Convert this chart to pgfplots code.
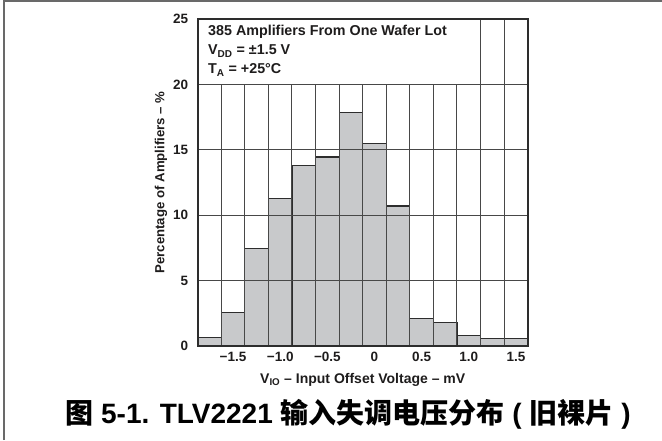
\documentclass[border=0pt]{standalone}
\usepackage{pgfplots}
\pgfplotsset{compat=1.18}
\usepackage{fontspec}
\setmainfont{Liberation Sans}
\newfontfamily\cjk{Noto Sans CJK SC}

\definecolor{barfill}{RGB}{200,201,203}
\definecolor{gridc}{RGB}{72,72,72}
\definecolor{framec}{RGB}{45,45,45}
\definecolor{txt}{RGB}{30,28,28}
\definecolor{outer}{RGB}{105,105,105}

\begin{document}
\begin{tikzpicture}[x=1pt,y=1pt]
\useasboundingbox (0,0) rectangle (662,440);
% page frame
\draw[line width=2pt, outer] (4,0) -- (4,439) -- (662,439);

\begin{axis}[
  at={(197.7pt,94pt)}, anchor=south west,
  scale only axis, width=330pt, height=327pt,
  xmin=-1.875, xmax=1.625, ymin=0, ymax=25,
  axis on top,
  xtick={-1.5,-1,-0.5,0,0.5,1,1.5},
  xticklabels={−1.5,−1.0,−0.5,0,0.5,1.0,1.5},
  minor xtick={-1.625,-1.375,-1.125,-0.875,-0.625,-0.375,-0.125,0.125,0.375,0.625,0.875,1.125,1.375},
  ytick={0,5,10,15,20,25},
  yticklabels={0,5,10,15,20,25},
  major tick length=0pt, minor tick length=0pt,
  xminorgrids, ymajorgrids,
  grid style={line width=1pt, color=gridc},
  minor grid style={line width=1pt, color=gridc},
  axis line style={line width=1.6pt, color=framec},
  tick label style={font=\bfseries\fontsize{13.5}{15}\selectfont, text=txt},
  xticklabel style={yshift=-3pt},
  yticklabel style={xshift=-6pt},
  xlabel={V\textsubscript{IO} – Input Offset Voltage – mV},
  ylabel={Percentage of Amplifiers – \%},
  label style={font=\bfseries\fontsize{14}{16}\selectfont, text=txt},
  xlabel style={at={(axis description cs:0.5,-0.104)}, anchor=center},
  ylabel style={at={(axis description cs:-0.111,0.5)}, anchor=center,
    font=\bfseries\fontsize{13.2}{15}\selectfont},
]
% histogram of input offset voltage, 0.25 mV bins
\addplot[ybar interval, fill=barfill, draw=framec, line width=1.1pt] coordinates {
  (-1.875,0.65) (-1.625,2.55) (-1.375,7.45) (-1.125,11.25) (-0.875,13.77)
  (-0.625,14.45) (-0.375,17.85) (-0.125,15.5) (0.125,10.7) (0.375,2.07)
  (0.625,1.82) (0.875,0.79) (1.125,0.55) (1.375,0.55) (1.625,0.55)
};
\coordinate (bl) at (axis cs:-1.875,20);
\coordinate (tr) at (axis cs:1.125,25);
\end{axis}

% white panel behind the test conditions
\fill[white] ([xshift=1pt,yshift=0.6pt]bl) rectangle ([xshift=-0.6pt,yshift=-1pt]tr);
\begin{scope}[every node/.style={anchor=base west, inner sep=0pt, text=txt,
    font=\bfseries\fontsize{14.3}{16}\selectfont}]
  \node at (208,404) {385 Amplifiers From One Wafer Lot};
  \node at (208,385) {V\textsubscript{DD} = ±1.5 V};
  \node at (208,366) {T\textsubscript{A} = +25°C};
\end{scope}

% caption
\node[anchor=center, text=black, font=\bfseries\fontsize{28}{32}\selectfont]
  at (348,26) {{\cjk 图} 5-1. TLV2221 {\cjk 输入失调电压分布} ( {\cjk 旧裸片} )};
\end{tikzpicture}
\end{document}
